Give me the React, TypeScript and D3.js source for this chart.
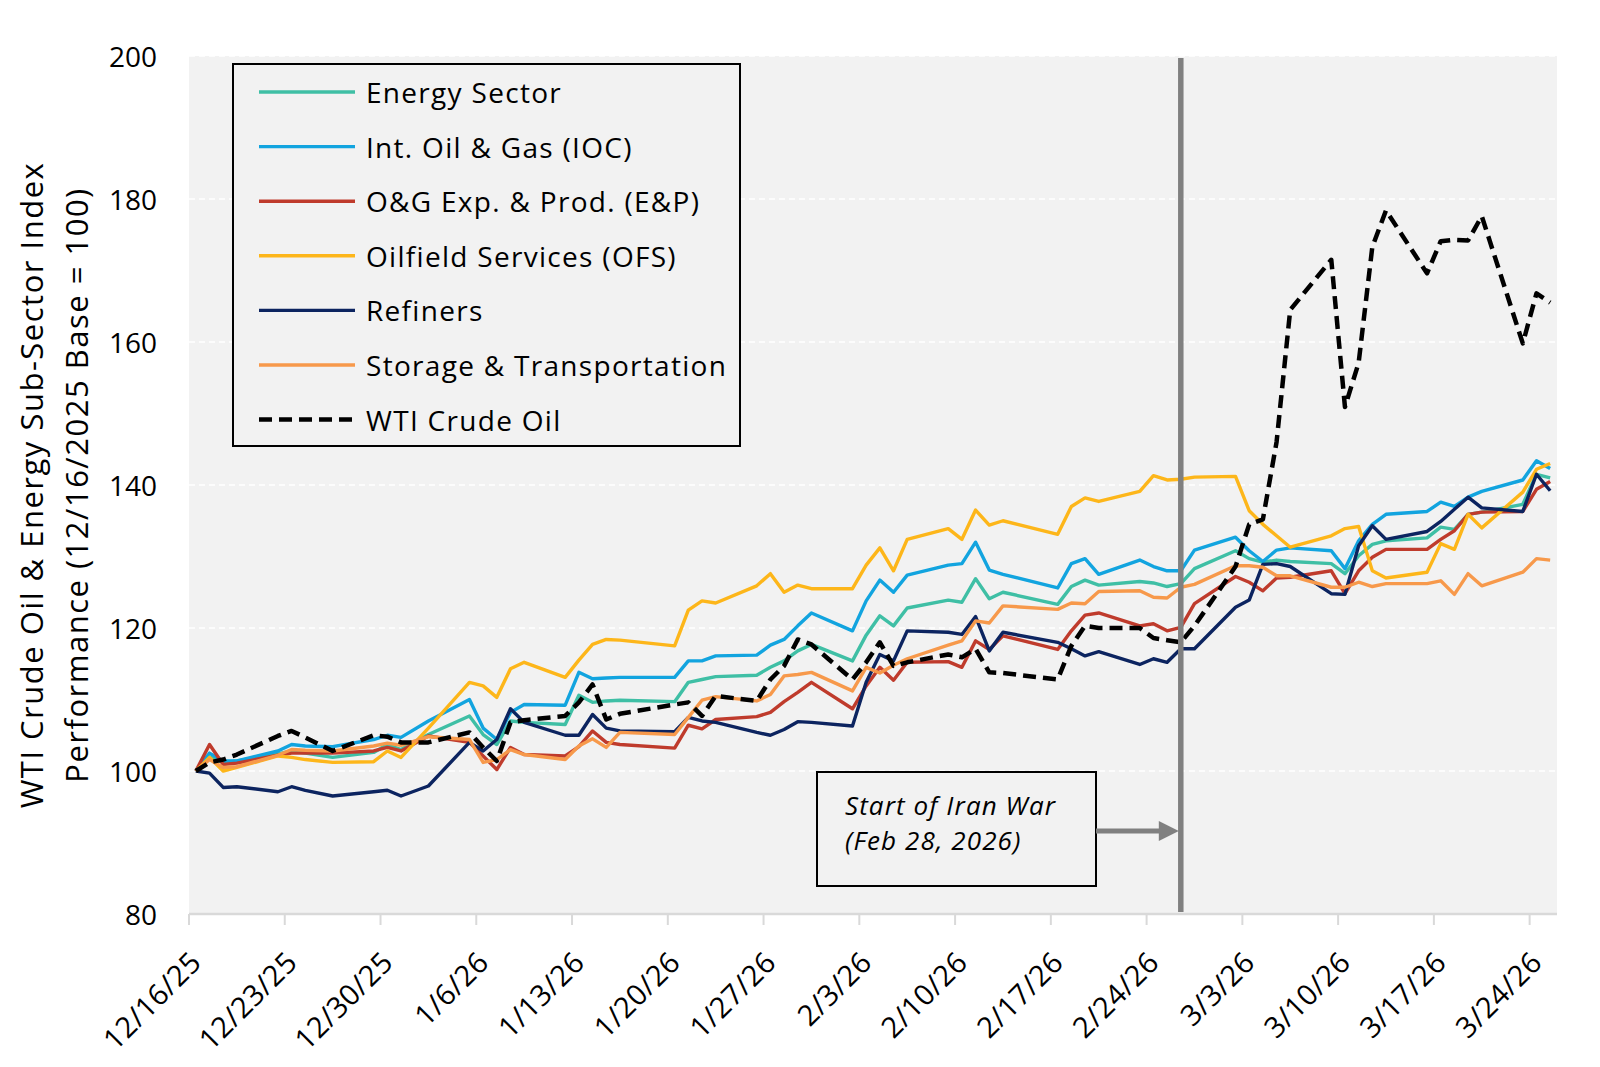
import React from 'react';
import * as d3 from 'd3';

const W = 1600;
const H = 1067;
const FONT = '"Open Sans", "Noto Sans", sans-serif';

// trading days shown in the chart
const dates = [
  '2025-12-16', '2025-12-17', '2025-12-18', '2025-12-19', '2025-12-22', '2025-12-23', '2025-12-24', '2025-12-26',
  '2025-12-29', '2025-12-30', '2025-12-31', '2026-01-02', '2026-01-05', '2026-01-06', '2026-01-07', '2026-01-08',
  '2026-01-09', '2026-01-12', '2026-01-13', '2026-01-14', '2026-01-15', '2026-01-16', '2026-01-20', '2026-01-21',
  '2026-01-22', '2026-01-23', '2026-01-26', '2026-01-27', '2026-01-28', '2026-01-29', '2026-01-30', '2026-02-02',
  '2026-02-03', '2026-02-04', '2026-02-05', '2026-02-06', '2026-02-09', '2026-02-10', '2026-02-11', '2026-02-12',
  '2026-02-13', '2026-02-17', '2026-02-18', '2026-02-19', '2026-02-20', '2026-02-23', '2026-02-24', '2026-02-25',
  '2026-02-26', '2026-02-27', '2026-03-02', '2026-03-03', '2026-03-04', '2026-03-05', '2026-03-06', '2026-03-09',
  '2026-03-10', '2026-03-11', '2026-03-12', '2026-03-13', '2026-03-16', '2026-03-17', '2026-03-18', '2026-03-19',
  '2026-03-20', '2026-03-23', '2026-03-24', '2026-03-25',
];

const energySector = [
  100, 102.0, 101.2, 101.4, 102.4, 102.8, 102.5, 101.9, 102.6, 103.7, 103.0, 105.1, 107.7, 105.1, 103.7, 107.0,
  106.8, 106.5, 110.6, 109.6, 109.8, 109.9, 109.7, 112.4, 112.8, 113.2, 113.4, 114.5, 115.4, 116.8, 117.7, 115.4,
  119.0, 121.7, 120.3, 122.8, 123.9, 123.6, 126.9, 124.1, 125.0, 123.3, 125.8, 126.7, 126.0, 126.5, 126.3, 125.8,
  126.2, 128.3, 130.8, 129.7, 129.2, 129.5, 129.3, 129.0, 127.6, 130.1, 131.7, 132.2, 132.6, 134.1, 133.8, 135.9,
  136.2, 137.3, 141.5, 141.0,
];

const intOilGas = [
  100, 102.5, 101.4, 101.4, 102.8, 103.7, 103.5, 103.4, 104.4, 105.0, 104.7, 107.0, 110.0, 106.0, 104.4, 108.2,
  109.3, 109.2, 113.8, 112.9, 113.0, 113.1, 113.1, 115.4, 115.4, 116.1, 116.2, 117.6, 118.4, 120.3, 122.1, 119.6,
  123.8, 126.7, 125.0, 127.4, 128.8, 129.0, 132.0, 128.1, 127.5, 125.6, 129.0, 129.7, 127.5, 129.5, 128.6, 128.0,
  128.0, 130.9, 132.7, 130.8, 129.3, 130.9, 131.2, 130.8, 128.3, 132.2, 134.5, 135.9, 136.3, 137.6, 137.0, 138.3,
  139.1, 140.7, 143.4, 142.3,
];

const expProd = [
  100, 103.7, 100.9, 101.1, 102.2, 102.5, 102.5, 102.5, 102.8, 103.3, 102.8, 104.9, 104.0, 102.1, 100.2, 103.3,
  102.3, 102.1, 103.4, 105.6, 104.0, 103.7, 103.2, 106.4, 105.9, 107.2, 107.6, 108.2, 109.7, 111.0, 112.4, 108.7,
  111.9, 114.5, 112.7, 115.2, 115.3, 114.5, 118.2, 117.0, 118.9, 117.0, 119.6, 121.8, 122.1, 120.3, 120.6, 119.6,
  120.1, 123.4, 127.2, 126.4, 125.2, 127.0, 127.1, 128.0, 124.8, 128.0, 129.9, 131.0, 131.0, 132.4, 133.6, 135.9,
  136.2, 136.3, 139.4, 140.5,
];

const oilfieldServices = [
  100, 101.9, 100.0, 100.5, 102.1, 101.9, 101.6, 101.2, 101.3, 102.8, 101.9, 106.0, 112.4, 111.9, 110.3, 114.3,
  115.2, 113.1, 115.5, 117.7, 118.4, 118.3, 117.5, 122.5, 123.8, 123.5, 125.9, 127.6, 125.0, 126.0, 125.5, 125.5,
  128.8, 131.2, 128.0, 132.4, 133.9, 132.4, 136.5, 134.4, 135.0, 133.1, 137.0, 138.2, 137.7, 139.1, 141.3, 140.7,
  140.8, 141.1, 141.2, 136.4, 134.5, 132.9, 131.3, 132.9, 133.9, 134.2, 128.0, 127.0, 127.8, 131.8, 131.0, 135.9,
  134.0, 139.0, 142.2, 143.0,
];

const refiners = [
  100, 99.7, 97.7, 97.8, 97.1, 97.8, 97.3, 96.5, 97.1, 97.3, 96.5, 97.9, 104.0, 102.8, 104.4, 108.7,
  106.8, 105.0, 105.0, 107.9, 106.0, 105.6, 105.5, 107.5, 107.0, 106.8, 105.4, 105.0, 105.8, 106.9, 106.8, 106.3,
  112.4, 116.3, 115.4, 119.6, 119.4, 119.1, 121.6, 116.8, 119.4, 118.0, 117.1, 116.1, 116.7, 114.9, 115.7, 115.2,
  117.1, 117.1, 122.9, 123.9, 128.9, 129.0, 128.6, 124.8, 124.7, 131.5, 134.3, 132.4, 133.5, 134.9, 136.6, 138.3,
  136.8, 136.3, 141.5, 139.2,
];

const storageTransport = [
  100, 101.6, 100.5, 100.6, 102.2, 103.0, 102.9, 102.8, 103.5, 103.9, 103.6, 104.8, 104.4, 101.2, 101.6, 103.0,
  102.3, 101.6, 103.5, 104.5, 103.3, 105.4, 105.1, 107.5, 109.9, 110.4, 109.8, 110.7, 113.3, 113.5, 113.8, 111.2,
  114.5, 113.7, 114.8, 115.7, 117.6, 118.2, 121.0, 120.7, 123.1, 122.6, 123.5, 123.4, 125.1, 125.2, 124.3, 124.2,
  125.7, 126.1, 128.7, 128.7, 128.5, 127.3, 127.3, 125.7, 125.7, 126.4, 125.8, 126.2, 126.2, 126.6, 124.7, 127.6,
  125.9, 127.8, 129.7, 129.5,
];

const wtiCrude = [
  100, 101.2, 101.6, 102.3, 104.9, 105.6, 104.7, 102.8, 105.0, 104.8, 104.0, 104.0, 105.4, 103.3, 101.4, 106.8,
  107.1, 107.7, 109.6, 112.1, 107.2, 108.0, 109.3, 109.6, 107.7, 110.5, 109.8, 112.8, 114.7, 118.4, 117.7, 112.8,
  115.2, 118.0, 114.7, 115.2, 116.3, 115.9, 117.1, 113.8, 113.7, 112.8, 117.5, 120.3, 120.0, 120.0, 118.6, 118.3,
  118.0, 120.3, 128.6, 134.5, 135.2, 146.0, 164.5, 171.5, 150.9, 157.1, 173.3, 178.4, 169.6, 174.1, 174.3, 174.2,
  177.6, 159.8, 166.8, 165.5,
];

const seriesNames = [
  'Energy Sector',
  'Int. Oil & Gas (IOC)',
  'O&G Exp. & Prod. (E&P)',
  'Oilfield Services (OFS)',
  'Refiners',
  'Storage & Transportation',
  'WTI Crude Oil',
];
const seriesValues = [energySector, intOilGas, expProd, oilfieldServices, refiners, storageTransport, wtiCrude];
const seriesColors = ['#3fbfa5', '#12a4df', '#bf3b2c', '#fdb61a', '#0c2460', '#f7994b', '#000000'];

const yTicks = [80, 100, 120, 140, 160, 180, 200];
const gridValues = [100, 120, 140, 160, 180, 200];
const tickLabels = [
  '12/16/25', '12/23/25', '12/30/25', '1/6/26', '1/13/26', '1/20/26', '1/27/26', '2/3/26',
  '2/10/26', '2/17/26', '2/24/26', '3/3/26', '3/10/26', '3/17/26', '3/24/26',
];
const axisStart = '2025-12-16';
const axisEnd = '2026-03-26';
const warMarker = '2026-02-26';
const noteLines = ['Start of Iran War', '(Feb 28, 2026)'];
const yTitle = ['WTI Crude Oil & Energy Sub-Sector Index', 'Performance (12/16/2025 Base = 100)'];

const parse = (s: string) => {
  const [y, m, d] = s.split('-').map(Number);
  return new Date(y, m - 1, d);
};
// points sit in the middle of their day, like an Excel date axis
const mid = (s: string) => d3.timeHour.offset(parse(s), 12);

const plot = { left: 189, right: 1557, top: 56, bottom: 914 };

export default function App() {
  const x = d3.scaleTime().domain([parse(axisStart), parse(axisEnd)]).range([plot.left, plot.right]);
  const y = d3.scaleLinear().domain([80, 200]).range([plot.bottom, plot.top]);

  const line = d3
    .line<number>()
    .x((_, i) => x(mid(dates[i])))
    .y((v) => y(v));

  const tickDates = tickLabels.map((_, i) => d3.timeDay.offset(parse(axisStart), i * 7));
  const warX = x(mid(warMarker));

  const legend = { x: 233, y: 64, w: 507, h: 382, rowY: 92, rowGap: 54.6 };
  const note = { x: 817, y: 772, w: 279, h: 114 };
  const arrowY = 831;

  return (
    <div style={{ position: 'absolute', left: 0, top: 0 }}>
      <svg width={W} height={H} style={{ display: 'block', background: '#fff' }} fontFamily={FONT}>
        <rect x={plot.left} y={plot.top} width={plot.right - plot.left} height={plot.bottom - plot.top} fill="#f2f2f2" />

        {gridValues.map((v) => (
          <line key={v} x1={plot.left} x2={plot.right} y1={y(v)} y2={y(v)} stroke="#ffffff" strokeWidth={1.6} strokeDasharray="6 4" />
        ))}

        {/* bottom axis */}
        <line x1={plot.left} x2={plot.right} y1={plot.bottom} y2={plot.bottom} stroke="#d9d9d9" strokeWidth={2.5} />
        {tickDates.map((d, i) => (
          <g key={i}>
            <line x1={x(d)} x2={x(d)} y1={plot.bottom} y2={plot.bottom + 11} stroke="#d9d9d9" strokeWidth={2} />
            <text
              transform={`translate(${x(d) + 6},${plot.bottom + 42}) rotate(-45)`}
              textAnchor="end"
              dominantBaseline="central"
              fontSize={29}
              letterSpacing={0.4}
              fill="#000"
            >
              {tickLabels[i]}
            </text>
          </g>
        ))}

        {yTicks.map((v) => (
          <text key={v} x={157} y={y(v)} textAnchor="end" dominantBaseline="central" fontSize={28} fill="#000">
            {v}
          </text>
        ))}

        {yTitle.map((t, i) => (
          <text
            key={i}
            transform={`translate(${31 + i * 45},${(plot.top + plot.bottom) / 2}) rotate(-90)`}
            textAnchor="middle"
            dominantBaseline="central"
            fontSize={31}
            letterSpacing={1.5}
            fill="#000"
          >
            {t}
          </text>
        ))}

        {/* series */}
        {seriesValues.map((vals, i) => (
          <path
            key={seriesNames[i]}
            d={line(vals) || ''}
            fill="none"
            stroke={seriesColors[i]}
            strokeWidth={i === 6 ? 4.5 : 3.4}
            strokeDasharray={i === 6 ? '13 7' : undefined}
            strokeLinejoin="round"
          />
        ))}

        {/* war marker */}
        <line x1={warX} x2={warX} y1={plot.top + 2} y2={plot.bottom - 2} stroke="#808080" strokeWidth={5.5} />
        <rect x={note.x} y={note.y} width={note.w} height={note.h} fill="#f2f2f2" stroke="#000" strokeWidth={2} />
        {noteLines.map((t, i) => (
          <text key={i} x={note.x + 28} y={note.y + 43 + i * 35} fontSize={26} letterSpacing={1.1} fontStyle="italic" fill="#000">
            {t}
          </text>
        ))}
        <line x1={note.x + note.w} x2={warX - 18} y1={arrowY} y2={arrowY} stroke="#808080" strokeWidth={5} />
        <path d={`M${warX - 2},${arrowY} L${warX - 22},${arrowY - 10} L${warX - 22},${arrowY + 10} Z`} fill="#808080" />

        {/* legend */}
        <rect x={legend.x} y={legend.y} width={legend.w} height={legend.h} fill="#f2f2f2" stroke="#000" strokeWidth={2} />
        {seriesNames.map((name, i) => {
          const ry = legend.rowY + i * legend.rowGap;
          return (
            <g key={name}>
              <line
                x1={259}
                x2={355}
                y1={ry}
                y2={ry}
                stroke={seriesColors[i]}
                strokeWidth={i === 6 ? 4.5 : 3.4}
                strokeDasharray={i === 6 ? '13 7' : undefined}
              />
              <text x={366} y={ry} dominantBaseline="central" fontSize={28} letterSpacing={1.3} fill="#000">
                {name}
              </text>
            </g>
          );
        })}
      </svg>
    </div>
  );
}
